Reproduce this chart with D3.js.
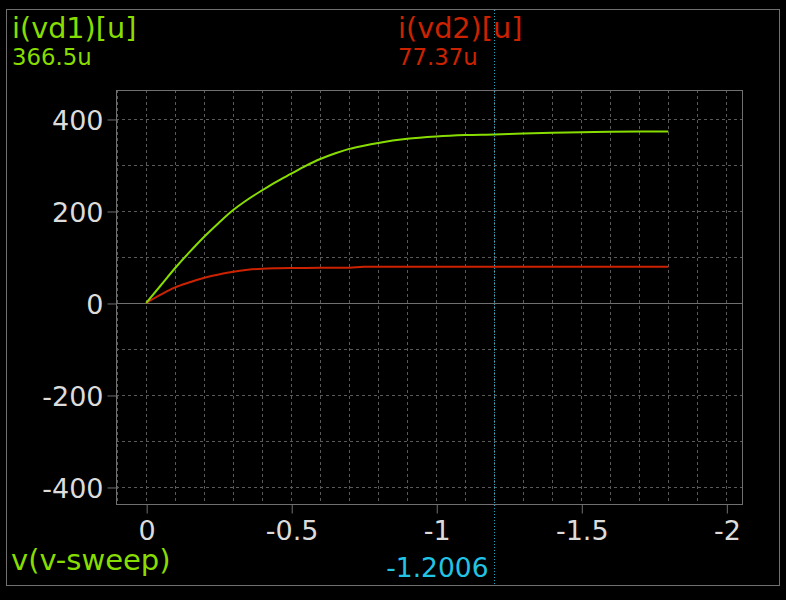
<!DOCTYPE html>
<html>
<head>
<meta charset="utf-8">
<script src="https://cdn.jsdelivr.net/npm/d3@7"></script>
<style>
  html, body { margin: 0; padding: 0; background: #000; }
  svg { display: block; }
  text { font-family: "DejaVu Sans", sans-serif; }
</style>
</head>
<body>
<svg id="chart" width="786" height="600"></svg>
<script>
// ---- data ----
const sweepV = [0, -0.05, -0.1, -0.15, -0.2, -0.25, -0.3, -0.35, -0.4, -0.45, -0.5, -0.55, -0.6, -0.65, -0.7, -0.75, -0.8, -0.9, -1.0, -1.1, -1.2, -1.3, -1.4, -1.5, -1.6, -1.7, -1.8];
const ivd1 = [0, 38, 76, 111, 144, 174, 202, 225, 245, 264, 281, 298, 313, 325, 335, 342, 348, 357, 362, 365, 366.5, 368.5, 370, 371, 372.5, 373, 373];
const ivd2 = [0, 18, 34, 45, 55, 62, 68, 72, 74.5, 75.5, 76, 76.3, 76.5, 76.7, 76.8, 78.5, 78.5, 78.5, 78.5, 78.5, 78.5, 78.6, 78.6, 78.7, 78.7, 78.8, 78.8];
const xTickValues = [0, -0.5, -1, -1.5, -2];
const yTickValues = [400, 200, 0, -200, -400];
const xGridValues = [0.1, 0, -0.1, -0.2, -0.3, -0.4, -0.5, -0.6, -0.7, -0.8, -0.9, -1.0, -1.1, -1.2, -1.3, -1.4, -1.5, -1.6, -1.7, -1.8, -1.9, -2.0];
const yGridValues = [400, 300, 200, 100, -100, -200, -300, -400];
const traceNames = ["i(vd1)[u]", "i(vd2)[u]"];
const cursorValues = ["366.5u", "77.37u"];
const cursorX = -1.2006;
const xLabel = "v(v-sweep)";

(function () {
const colors = { green: "#88dd00", red: "#cc2200", cyan: "#22c4e6", grid: "#5a5a5a", frame: "#707070", text: "#dcdcdc" };

const svg = d3.select("#chart");
const pl = 116, pr = 742, pt = 90, pb = 504;

const x = d3.scaleLinear().domain([0.104, -2.054]).range([pl, pr]);
const y = d3.scaleLinear().domain([463, -437]).range([pt, pb]);
const px = v => Math.round(v) + 0.5;

// outer frame
svg.append("rect").attr("x", 6.5).attr("y", 9.5).attr("width", 773).attr("height", 576)
  .attr("fill", "#000").attr("stroke", colors.frame).attr("stroke-width", 1);

// grid
const g = svg.append("g");
g.selectAll(".vg").data(xGridValues).join("line")
  .attr("x1", d => px(x(d))).attr("x2", d => px(x(d)))
  .attr("y1", pt).attr("y2", pb)
  .attr("stroke", colors.grid).attr("stroke-dasharray", "3,3");
g.selectAll(".hg").data(yGridValues).join("line")
  .attr("x1", pl).attr("x2", pr)
  .attr("y1", d => px(y(d))).attr("y2", d => px(y(d)))
  .attr("stroke", colors.grid).attr("stroke-dasharray", "3,3");
// zero line
g.append("line").attr("x1", pl).attr("x2", pr)
  .attr("y1", px(y(0))).attr("y2", px(y(0))).attr("stroke", colors.frame);

// plot border
svg.append("rect").attr("x", pl + 0.5).attr("y", pt + 0.5)
  .attr("width", pr - pl).attr("height", pb - pt)
  .attr("fill", "none").attr("stroke", colors.frame);

// axes
const yAxis = d3.axisLeft(y).tickValues(yTickValues).tickSize(9).tickPadding(4).tickFormat(d => String(d));
const ya = svg.append("g").attr("transform", `translate(${pl + 0.5},0.5)`).call(yAxis);
const xAxis = d3.axisBottom(x).tickValues(xTickValues).tickSize(9).tickPadding(7).tickFormat(d => String(d));
const xa = svg.append("g").attr("transform", `translate(0.5,${pb + 0.5})`).call(xAxis);
[ya, xa].forEach(a => {
  a.select(".domain").remove();
  a.selectAll(".tick line").attr("stroke", colors.frame);
  a.selectAll(".tick text").attr("fill", colors.text).style("font-size", "27px")
    .style("font-family", "'DejaVu Sans', sans-serif");
});
ya.selectAll(".tick text").attr("dy", "0.37em");

// traces
const line = d3.line().x(d => x(d[0])).y(d => y(d[1])).curve(d3.curveMonotoneX);
svg.append("path").datum(sweepV.map((v, i) => [v, ivd2[i]]))
  .attr("d", line).attr("fill", "none").attr("stroke", colors.red).attr("stroke-width", 2);
svg.append("path").datum(sweepV.map((v, i) => [v, ivd1[i]]))
  .attr("d", line).attr("fill", "none").attr("stroke", colors.green).attr("stroke-width", 2);

// cursor
const cx = px(x(cursorX));
svg.append("line").attr("x1", cx).attr("x2", cx).attr("y1", 10).attr("y2", 585)
  .attr("stroke", colors.cyan).attr("stroke-dasharray", "1,2").attr("stroke-opacity", 0.85);
svg.append("text").attr("x", cx - 6).attr("y", 577).attr("text-anchor", "end")
  .attr("fill", colors.cyan).style("font-size", "26.5px").text(String(cursorX));

// labels
svg.append("text").attr("x", 12).attr("y", 38).attr("fill", colors.green).style("font-size", "28.7px").text(traceNames[0]);
svg.append("text").attr("x", 12).attr("y", 65).attr("fill", colors.green).style("font-size", "22.8px").text(cursorValues[0]);
svg.append("text").attr("x", 398).attr("y", 38).attr("fill", colors.red).style("font-size", "28.7px").text(traceNames[1]);
svg.append("text").attr("x", 398).attr("y", 65).attr("fill", colors.red).style("font-size", "22.8px").text(cursorValues[1]);
svg.append("text").attr("x", 11).attr("y", 570).attr("fill", colors.green).style("font-size", "29px").text(xLabel);
})();
</script>
</body>
</html>
